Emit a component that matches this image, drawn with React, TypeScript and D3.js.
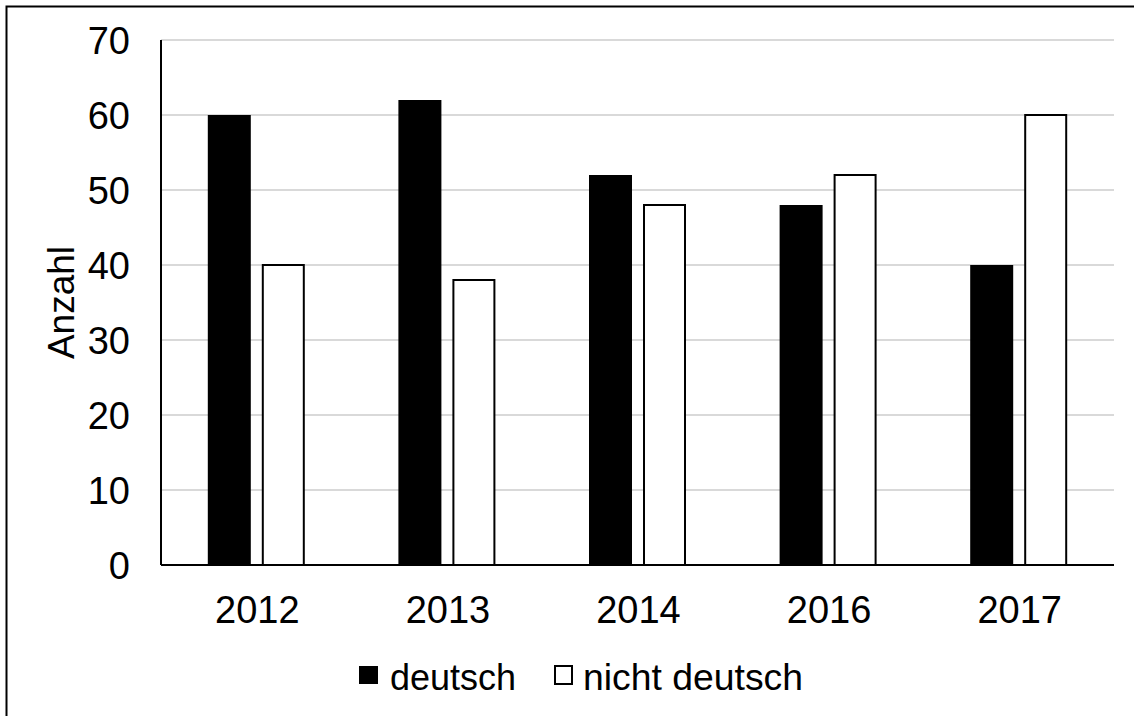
import React from "react";
import * as d3 from "d3";

const years = ["2012", "2013", "2014", "2016", "2017"];
const deutsch = [60, 62, 52, 48, 40];
const nichtDeutsch = [40, 38, 48, 52, 60];
const yTicks = [0, 10, 20, 30, 40, 50, 60, 70];
const seriesNames = ["deutsch", "nicht deutsch"];

const W = 1134;
const H = 716;
const left = 161;
const right = 1114;
const top = 40;
const bottom = 565;
const font = "'Liberation Sans', Arial, sans-serif";

export default function App() {
  const x = d3.scaleBand<string>().domain(years).range([left, right]).paddingInner(0).paddingOuter(0);
  const y = d3.scaleLinear().domain([0, 70]).range([bottom, top]);
  const barW = 43;
  const gap = 11;

  return (
    <svg width={W} height={H} style={{ position: "absolute", left: 0, top: 0, background: "#fff" }}>
      <rect x={6.5} y={6.5} width={W + 10} height={H + 10} fill="#fff" stroke="#000" strokeWidth={2} />
      {yTicks.filter((t) => t > 0).map((t) => (
        <line key={t} x1={left} x2={right} y1={y(t)} y2={y(t)} stroke="#d9d9d9" strokeWidth={2} />
      ))}
      {yTicks.map((t) => (
        <text key={t} x={130} y={y(t)} dy="0.36em" textAnchor="end" fontFamily={font} fontSize={38} fill="#000">
          {t}
        </text>
      ))}
      <text
        transform={`translate(61, ${(top + bottom) / 2}) rotate(-90)`}
        dy="0.36em"
        textAnchor="middle"
        fontFamily={font}
        fontSize={37}
        fill="#000"
      >
        Anzahl
      </text>
      {years.map((yr, i) => {
        const c = (x(yr) as number) + x.bandwidth() / 2;
        return (
          <g key={yr}>
            <rect
              x={c - gap / 2 - barW}
              y={y(deutsch[i])}
              width={barW}
              height={y(0) - y(deutsch[i])}
              fill="#000"
            />
            <rect
              x={c + gap / 2 + 1}
              y={y(nichtDeutsch[i])}
              width={barW - 2}
              height={y(0) - y(nichtDeutsch[i])}
              fill="#fff"
              stroke="#000"
              strokeWidth={2}
            />
            <text x={c + 1} y={623} textAnchor="middle" fontFamily={font} fontSize={38} fill="#000">
              {yr}
            </text>
          </g>
        );
      })}
      <line x1={left} x2={left} y1={top} y2={bottom} stroke="#000" strokeWidth={2} />
      <line x1={left} x2={right} y1={bottom} y2={bottom} stroke="#000" strokeWidth={2} />
      <g fontFamily={font} fontSize={37} fill="#000">
        <rect x={359} y={666} width={19} height={18} fill="#000" />
        <text x={390} y={690} textLength={126} lengthAdjust="spacingAndGlyphs">{seriesNames[0]}</text>
        <rect x={555} y={666} width={17} height={18} fill="#fff" stroke="#000" strokeWidth={2} />
        <text x={583} y={690} textLength={220} lengthAdjust="spacingAndGlyphs">{seriesNames[1]}</text>
      </g>
    </svg>
  );
}
